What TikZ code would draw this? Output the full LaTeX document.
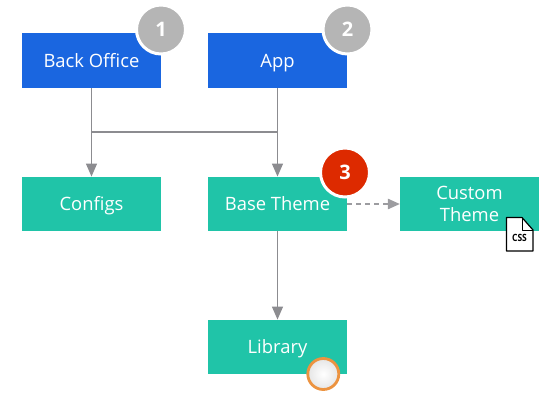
\documentclass[tikz,border=0pt]{standalone}
\usepackage{fontspec}
\setmainfont{Open Sans}
\usetikzlibrary{arrows.meta,calc}
\definecolor{boxblue}{HTML}{1A66E0}
\definecolor{boxteal}{HTML}{20C4A8}
\definecolor{linegray}{HTML}{8C8C90}
\definecolor{dashgray}{HTML}{9C9CA0}
\definecolor{badgegray}{HTML}{B5B5B5}
\definecolor{badgered}{HTML}{DD2A00}
\definecolor{ringorange}{HTML}{EC9340}
\tikzset{
  x=1pt,y=-1pt,
  box/.style={rectangle,minimum width=139pt,minimum height=54.5pt,inner sep=0pt,text=white,font=\fontsize{18.4}{22}\selectfont,align=center},
  oneline/.style={text height=13pt,text depth=0pt},
  bluebox/.style={box,oneline,fill=boxblue},
  tealbox/.style={box,fill=boxteal},
  badge/.style={circle,draw=white,line width=3pt,minimum size=49pt,inner sep=0pt,text=white,font=\fontsize{20}{24}\selectfont\bfseries},
  conn/.style={draw=linegray,line width=1.25pt},
  arrow/.style={conn,-{Triangle[length=13pt,width=11pt]}},
  dasharrow/.style={conn,draw=dashgray,-{Triangle[length=12pt,width=10.5pt]},dash pattern=on 5pt off 4pt}
}
\begin{document}
\begin{tikzpicture}
\useasboundingbox (0,0) rectangle (560,404);
\node[bluebox] (bo) at (91.5,60.5) {Back Office};
\node[bluebox] (app) at (277.5,60.5) {App};
\node[tealbox,oneline] (cfg) at (91.5,204) {Configs};
\node[tealbox,oneline] (base) at (277.5,204) {Base Theme};
\node[tealbox] (custom) at (469.5,204) {Custom\\[-0.5pt]Theme};
\node[tealbox,oneline] (lib) at (277.5,347) {Library};
\coordinate (j1) at (91.5,132);
\coordinate (j2) at (277.5,132);
\draw[arrow] (bo.south) -- (cfg.north);
\draw[arrow] (app.south) -- (base.north);
\draw[conn] (j1) -- (j2);
\draw[arrow] (base.south) -- (lib.north);
\draw[dasharrow] (base.east) -- (custom.west);
\node[badge,fill=badgegray] (b1) at (161,29.5) {1};
\node[badge,fill=badgegray] (b2) at (347.5,29.5) {2};
\node[badge,fill=badgered] (b3) at (345,172.5) {3};
\node[circle,draw=ringorange,line width=2.8pt,inner color=white,outer color=white!90!black,minimum size=31pt,inner sep=0pt] (lamp) at (323.3,374) {};
\path[fill=white,draw=black,line width=1.2pt,line join=round]
  (506.5,217.5) -- (522,217.5) -- (533,230) -- (533,251) -- (506.5,251) -- cycle;
\draw[black,line width=1pt,line join=round] (522,217.5) -- (522,230) -- (533,230);
\node[inner sep=0pt,font=\fontsize{10}{10}\selectfont\bfseries,xscale=0.85] (cssl) at (519.5,238) {CSS};
\end{tikzpicture}
\end{document}
